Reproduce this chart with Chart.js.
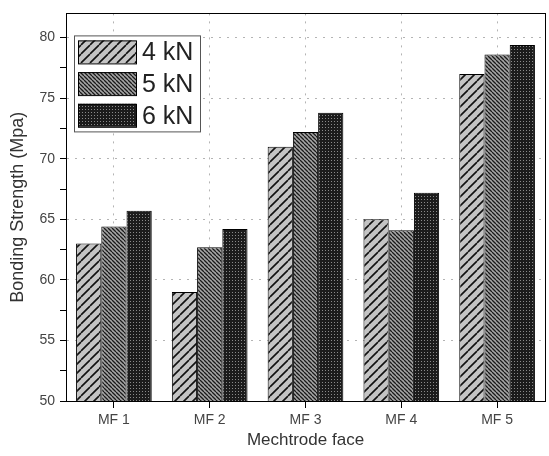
<!DOCTYPE html>
<html>
<head>
<meta charset="utf-8">
<script src="https://cdn.jsdelivr.net/npm/chart.js@4.4.1/dist/chart.umd.min.js"></script>
<style>
  html, body { margin: 0; padding: 0; background: #fff; }
</style>
</head>
<body>
<canvas id="chart" width="549" height="456"></canvas>
<script>
'use strict';

// データ
const categories = ['MF 1', 'MF 2', 'MF 3', 'MF 4', 'MF 5'];
const loadLabels = ['4 kN', '5 kN', '6 kN'];
const strength4kN = [63.0, 59.0, 71.0, 65.0, 77.0];
const strength5kN = [64.4, 62.7, 72.2, 64.1, 78.6];
const strength6kN = [65.7, 64.2, 73.8, 67.2, 79.4];
const yTickValues = [50, 52.5, 55, 57.5, 60, 62.5, 65, 67.5, 70, 72.5, 75, 77.5, 80];

Chart.defaults.font.family = "'Liberation Sans', Arial, sans-serif";

// ハッチング用のパターンを作る
function makePattern(kind) {
  const c = document.createElement('canvas');
  const p = c.getContext('2d');
  if (kind === 'slash') {
    c.width = c.height = 9;
    p.fillStyle = '#c4c4c4';
    p.fillRect(0, 0, 9, 9);
    p.strokeStyle = '#111';
    p.lineWidth = 1.6;
    p.beginPath();
    [-9, 0, 9].forEach(o => { p.moveTo(o, 9); p.lineTo(o + 9, 0); });
    p.stroke();
  } else if (kind === 'backslash') {
    c.width = c.height = 4;
    p.fillStyle = '#a6a6a6';
    p.fillRect(0, 0, 4, 4);
    p.strokeStyle = '#1a1a1a';
    p.lineWidth = 1.3;
    p.beginPath();
    [-4, 0, 4].forEach(o => { p.moveTo(o, 0); p.lineTo(o + 4, 4); });
    p.stroke();
  } else {
    c.width = c.height = 3;
    p.fillStyle = '#1c1c1c';
    p.fillRect(0, 0, 3, 3);
    p.fillStyle = '#8a8a8a';
    p.fillRect(1, 1, 1, 1);
  }
  return p.createPattern(c, 'repeat');
}

const fills = [makePattern('slash'), makePattern('backslash'), makePattern('dots')];
const series = [strength4kN, strength5kN, strength6kN];

// 凡例をプロットの中に描く
const insideLegend = {
  id: 'insideLegend',
  afterDraw(chart) {
    const ctx = chart.ctx;
    const area = chart.chartArea;
    const x0 = area.left + 8;
    const y0 = area.top + 22;
    const w = 126;
    const h = 96;
    ctx.save();
    ctx.fillStyle = '#fff';
    ctx.fillRect(x0, y0, w, h);
    ctx.strokeStyle = '#555';
    ctx.lineWidth = 1;
    ctx.strokeRect(x0 + 0.5, y0 + 0.5, w, h);
    chart.data.datasets.forEach((ds, i) => {
      const sy = y0 + 5 + i * 31.7;
      ctx.fillStyle = ds.backgroundColor;
      ctx.fillRect(x0 + 4, sy, 58, 23);
      ctx.strokeStyle = '#000';
      ctx.strokeRect(x0 + 4.5, sy + 0.5, 58, 23);
      ctx.fillStyle = '#222';
      ctx.font = "25px 'Liberation Sans', Arial, sans-serif";
      ctx.textBaseline = 'middle';
      ctx.fillText(ds.label, x0 + 68, sy + 13);
    });
    ctx.restore();
  }
};

const setTicks = s => { s.ticks = yTickValues.map(v => ({ value: v })); };
const gridColor = c => (c.tick && c.tick.value % 5 === 0 ? '#b4b4b4' : 'rgba(0,0,0,0)');

new Chart(document.getElementById('chart'), {
  type: 'bar',
  data: {
    labels: categories,
    datasets: series.map((d, i) => ({
      label: loadLabels[i],
      data: d,
      backgroundColor: fills[i],
      borderColor: '#000',
      borderWidth: 1,
      categoryPercentage: 0.79,
      barPercentage: 1,
    })),
  },
  options: {
    responsive: false,
    animation: false,
    layout: { padding: 0 },
    plugins: {
      legend: { display: false },
      tooltip: { enabled: false },
    },
    scales: {
      x: {
        type: 'category',
        position: 'bottom',
        offset: true,
        afterFit: s => { s.height = 55; },
        grid: {
          offset: false,
          color: '#b4b4b4',
          tickColor: '#000',
          tickLength: 7,
          tickBorderDash: [],
        },
        border: { display: true, color: '#000', width: 1, dash: [2, 6] },
        ticks: { color: '#444', font: { size: 14 }, padding: 4 },
        title: {
          display: true,
          text: 'Mechtrode face',
          color: '#333',
          font: { size: 17 },
          padding: { top: 0, bottom: 5 },
        },
      },
      x2: {
        type: 'category',
        position: 'top',
        offset: true,
        afterFit: s => { s.height = 9; },
        grid: { drawOnChartArea: false, drawTicks: false },
        border: { display: true, color: '#000', width: 1 },
        ticks: { display: false },
      },
      y: {
        type: 'linear',
        position: 'left',
        min: 50,
        max: 82,
        afterBuildTicks: setTicks,
        afterFit: s => { s.width = 66; },
        grid: {
          color: gridColor,
          tickColor: '#000',
          tickLength: 6,
          tickBorderDash: [],
        },
        border: { display: true, color: '#000', width: 1, dash: [2, 6] },
        ticks: {
          color: '#444',
          font: { size: 14 },
          padding: 5,
          callback: v => (v % 5 === 0 ? v : ''),
        },
        title: {
          display: true,
          text: 'Bonding Strength (Mpa)',
          color: '#333',
          font: { size: 18 },
          padding: { top: 7, bottom: 0 },
        },
      },
      y2: {
        type: 'linear',
        position: 'right',
        min: 50,
        max: 82,
        afterBuildTicks: setTicks,
        afterFit: s => { s.width = 4; },
        grid: { drawOnChartArea: false, drawTicks: false },
        border: { display: true, color: '#000', width: 1 },
        ticks: { display: false },
      },
    },
  },
  plugins: [insideLegend],
});
</script>
</body>
</html>
